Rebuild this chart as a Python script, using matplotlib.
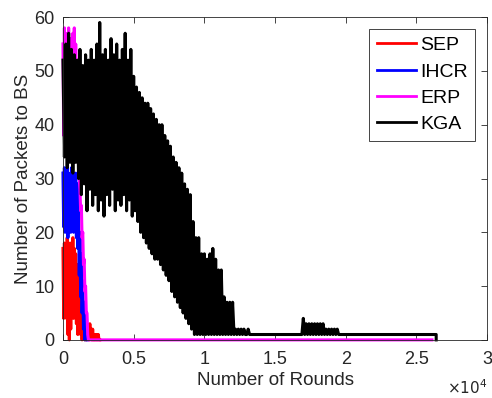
import numpy as np
import matplotlib
matplotlib.use('Agg')
import matplotlib.pyplot as plt
from matplotlib.ticker import FuncFormatter

plt.rcParams['font.family'] = ['Liberation Sans', 'DejaVu Sans']

# Packets delivered to BS per round
SEP_STEP = 50
sep_packets = [17, 4, 18, 5, 16, 4, 19, 1, 17, 0,
               18, 2, 16, 5, 19, 4, 17, 5, 16, 3,
               14, 1, 12, 2, 11, 1, 9, 0, 6, 1,
               4, 0, 3, 0, 3, 1, 2, 0, 3, 1,
               2, 0, 2, 0, 1, 0, 1, 0, 1, 0,
               1, 0, 0]

IHCR_STEP = 50
ihcr_packets = [31, 21, 32, 20, 30, 22, 32, 19, 31, 21,
                30, 20, 32, 22, 31, 20, 30, 21, 31, 19,
                29, 17, 25, 12, 20, 8, 16, 5, 11, 2,
                7, 0, 3, 0, 0]

ERP_STEP = 50
erp_packets = [55, 38, 58, 36, 57, 40, 54, 37, 58, 35,
               56, 39, 53, 36, 57, 38, 58, 34, 55, 37,
               52, 33, 47, 30, 28, 24, 25, 19, 20, 14,
               15, 9, 10, 5, 5, 1, 0]
erp_last_round = 26100

KGA_STEP = 100
kga_packets = [52, 34, 55, 32, 57, 33, 54, 31, 53, 33,
               52, 30, 54, 27, 51, 29, 53, 24, 52, 28,
               54, 25, 52, 27, 55, 24, 59, 26, 53, 23,
               54, 27, 52, 25, 56, 28, 53, 24, 55, 26,
               52, 25, 54, 27, 57, 24, 52, 26, 54, 23,
               49, 24, 47, 22, 46, 20, 45, 19, 44, 18,
               44, 17, 43, 16, 42, 15, 41, 15, 40, 14,
               40, 13, 38, 12, 37, 11, 36, 9, 34, 8,
               33, 7, 32, 6, 31, 5, 29, 4, 28, 3,
               27, 2, 22, 1, 19, 1, 19, 1, 16, 1,
               16, 1, 15, 1, 16, 1, 17, 1, 15, 1,
               13, 1, 13, 1, 8, 1, 7, 1, 7, 1,
               7, 1, 2, 1, 2, 1, 2, 1, 2, 1,
               1]
kga_tail_rounds = [13100, 13200, 13300, 16900, 17000, 17100, 17200, 17300,
                   17400, 17500, 17600, 17700, 17800, 17900, 18000, 18100,
                   18200, 18300, 18400, 18500, 18600, 18700, 18800, 18900,
                   19000, 19100, 19200, 19300, 19400, 19500, 26400, 26400]
kga_tail_packets = [2, 1, 1, 1, 4, 1, 3, 1,
                    3, 1, 3, 1, 3, 1, 3, 1,
                    3, 1, 3, 1, 2, 1, 2, 1,
                    2, 1, 2, 1, 2, 1, 1, 0]

labels = ['SEP', 'IHCR', 'ERP', 'KGA']
colors = ['#ff0000', '#0000ff', '#ff00ff', '#000000']

sep_rounds = np.arange(len(sep_packets)) * SEP_STEP
ihcr_rounds = np.arange(len(ihcr_packets)) * IHCR_STEP
erp_rounds = np.append(np.arange(len(erp_packets)) * ERP_STEP, erp_last_round)
erp_vals = erp_packets + [0]
kga_rounds = np.concatenate([np.arange(len(kga_packets)) * KGA_STEP, kga_tail_rounds])
kga_vals = kga_packets + kga_tail_packets

fig = plt.figure(figsize=(4.92, 3.98), dpi=100)
ax = fig.add_axes([0.128, 0.146, 0.862, 0.811])

series = [(sep_rounds, sep_packets), (ihcr_rounds, ihcr_packets),
          (erp_rounds, erp_vals), (kga_rounds, kga_vals)]
for (x, y), lab, col in zip(series, labels, colors):
    ax.plot(x, y, color=col, lw=2.2, label=lab, clip_on=False,
            solid_joinstyle='round')

ax.set_xlim(0, 30000)
ax.set_ylim(0, 60)
ax.set_xticks(np.arange(0, 30001, 5000))
ax.set_yticks(np.arange(0, 61, 10))
ax.xaxis.set_major_formatter(FuncFormatter(lambda v, p: f'{v / 1e4:g}'))
ax.tick_params(direction='in', top=True, right=True, length=4,
               labelsize=13, colors='#262626', width=0.6)
ax.tick_params(axis='x', pad=8)
ax.tick_params(axis='y', pad=6)
for s in ax.spines.values():
    s.set_color('#262626')
    s.set_linewidth(0.6)

ax.set_xlabel('Number of Rounds', fontsize=13.5, color='#262626', labelpad=3)
ax.set_ylabel('Number of Packets to BS', fontsize=13.5, color='#262626', labelpad=2)
ax.text(1.0, -0.12, r'$\times10^{4}$', transform=ax.transAxes,
        ha='right', va='top', fontsize=11, color='#262626')

leg = ax.legend(loc='upper right', fontsize=14, fancybox=False, framealpha=1,
                edgecolor='#262626', handlelength=2.0, handletextpad=0.2,
                labelspacing=0.45, borderaxespad=0.6, borderpad=0.4)
leg.get_frame().set_linewidth(0.6)
for line in leg.get_lines():
    line.set_linewidth(2)

fig.savefig('out.png', dpi=100)
